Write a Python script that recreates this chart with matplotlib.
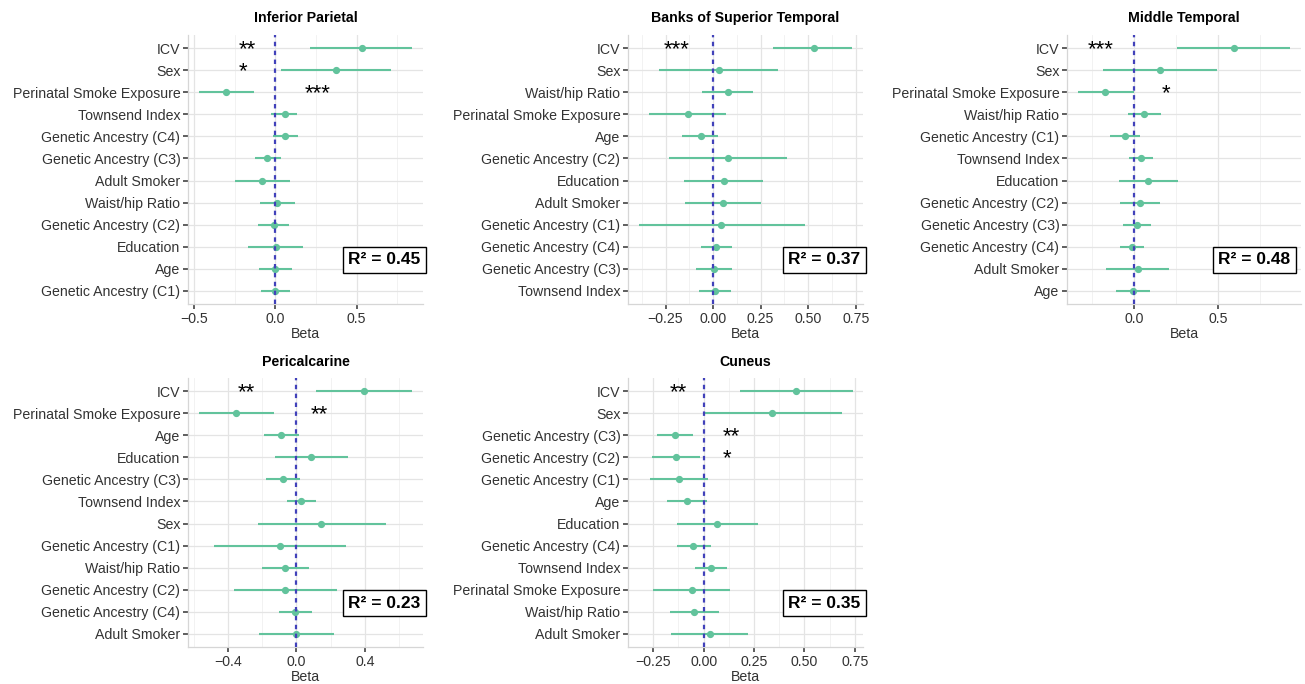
import numpy as np
import matplotlib
matplotlib.use("Agg")
import matplotlib.pyplot as plt

plt.rcParams["font.family"] = ["Liberation Sans", "DejaVu Sans"]

# ---- data (rows listed top to bottom) ----
ip_labels = ["ICV", "Sex", "Perinatal Smoke Exposure", "Townsend Index", "Genetic Ancestry (C4)",
             "Genetic Ancestry (C3)", "Adult Smoker", "Waist/hip Ratio", "Genetic Ancestry (C2)",
             "Education", "Age", "Genetic Ancestry (C1)"]
ip_beta = [0.531, 0.372, -0.302, 0.058, 0.062, -0.049, -0.082, 0.010, -0.010, 0.004, -0.002, -0.002]
ip_lo = [0.212, 0.037, -0.473, -0.025, -0.014, -0.128, -0.251, -0.097, -0.107, -0.169, -0.103, -0.086]
ip_hi = [0.844, 0.710, -0.134, 0.136, 0.140, 0.037, 0.088, 0.123, 0.084, 0.171, 0.103, 0.088]
ip_stars = [("ICV", -0.175, "**"), ("Sex", -0.2, "*"), ("Perinatal Smoke Exposure", 0.26, "***")]

bst_labels = ["ICV", "Sex", "Waist/hip Ratio", "Perinatal Smoke Exposure", "Age",
              "Genetic Ancestry (C2)", "Education", "Adult Smoker", "Genetic Ancestry (C1)",
              "Genetic Ancestry (C4)", "Genetic Ancestry (C3)", "Townsend Index"]
bst_beta = [0.528, 0.032, 0.079, -0.132, -0.065, 0.079, 0.055, 0.053, 0.044, 0.018, 0.005, 0.009]
bst_lo = [0.317, -0.282, -0.056, -0.335, -0.162, -0.232, -0.153, -0.148, -0.391, -0.065, -0.088, -0.074]
bst_hi = [0.732, 0.340, 0.208, 0.067, 0.028, 0.387, 0.264, 0.252, 0.481, 0.099, 0.099, 0.093]
bst_stars = [("ICV", -0.19, "***")]

mt_labels = ["ICV", "Sex", "Perinatal Smoke Exposure", "Waist/hip Ratio", "Genetic Ancestry (C1)",
             "Townsend Index", "Education", "Genetic Ancestry (C2)", "Genetic Ancestry (C3)",
             "Genetic Ancestry (C4)", "Adult Smoker", "Age"]
mt_beta = [0.593, 0.154, -0.172, 0.059, -0.053, 0.042, 0.085, 0.036, 0.016, -0.014, 0.020, -0.008]
mt_lo = [0.253, -0.188, -0.336, -0.034, -0.142, -0.028, -0.089, -0.083, -0.069, -0.083, -0.168, -0.109]
mt_hi = [0.929, 0.490, 0.000, 0.158, 0.036, 0.115, 0.263, 0.154, 0.101, 0.059, 0.209, 0.095]
mt_stars = [("ICV", -0.2, "***"), ("Perinatal Smoke Exposure", 0.19, "*")]

pc_labels = ["ICV", "Perinatal Smoke Exposure", "Age", "Education", "Genetic Ancestry (C3)",
             "Townsend Index", "Sex", "Genetic Ancestry (C1)", "Waist/hip Ratio",
             "Genetic Ancestry (C2)", "Genetic Ancestry (C4)", "Adult Smoker"]
pc_beta = [0.396, -0.351, -0.088, 0.088, -0.078, 0.029, 0.146, -0.098, -0.068, -0.064, -0.006, 0.000]
pc_lo = [0.113, -0.570, -0.191, -0.127, -0.176, -0.055, -0.224, -0.478, -0.201, -0.365, -0.101, -0.219]
pc_hi = [0.677, -0.133, 0.016, 0.302, 0.023, 0.117, 0.523, 0.289, 0.074, 0.240, 0.092, 0.219]
pc_stars = [("ICV", -0.29, "**"), ("Perinatal Smoke Exposure", 0.135, "**")]

cu_labels = ["ICV", "Sex", "Genetic Ancestry (C3)", "Genetic Ancestry (C2)", "Genetic Ancestry (C1)",
             "Age", "Education", "Genetic Ancestry (C4)", "Townsend Index",
             "Perinatal Smoke Exposure", "Waist/hip Ratio", "Adult Smoker"]
cu_beta = [0.460, 0.339, -0.142, -0.139, -0.120, -0.080, 0.066, -0.052, 0.035, -0.060, -0.047, 0.030]
cu_lo = [0.181, 0.000, -0.230, -0.254, -0.265, -0.183, -0.134, -0.134, -0.044, -0.252, -0.165, -0.162]
cu_hi = [0.740, 0.685, -0.052, -0.020, 0.022, 0.019, 0.268, 0.035, 0.117, 0.132, 0.074, 0.219]
cu_stars = [("ICV", -0.125, "**"), ("Genetic Ancestry (C3)", 0.135, "**"), ("Genetic Ancestry (C2)", 0.115, "*")]

panels = [
    ("Inferior Parietal", ip_labels, ip_beta, ip_lo, ip_hi, ip_stars, "0.45",
     [-0.5, 0.0, 0.5], ["\u22120.5", "0.0", "0.5"], [-0.25, 0.25, 0.75]),
    ("Banks of Superior Temporal", bst_labels, bst_beta, bst_lo, bst_hi, bst_stars, "0.37",
     [-0.25, 0.0, 0.25, 0.5, 0.75], ["\u22120.25", "0.00", "0.25", "0.50", "0.75"],
     [-0.375, -0.125, 0.125, 0.375, 0.625]),
    ("Middle Temporal", mt_labels, mt_beta, mt_lo, mt_hi, mt_stars, "0.48",
     [0.0, 0.5], ["0.0", "0.5"], [-0.25, 0.25, 0.75]),
    ("Pericalcarine", pc_labels, pc_beta, pc_lo, pc_hi, pc_stars, "0.23",
     [-0.4, 0.0, 0.4], ["\u22120.4", "0.0", "0.4"], [-0.6, -0.2, 0.2, 0.6]),
    ("Cuneus", cu_labels, cu_beta, cu_lo, cu_hi, cu_stars, "0.35",
     [-0.25, 0.0, 0.25, 0.5, 0.75], ["\u22120.25", "0.00", "0.25", "0.50", "0.75"],
     [-0.375, -0.125, 0.125, 0.375, 0.625]),
]

# axes boxes in pixels: left, right, top, bottom
W, H = 1305, 684
boxes = [(188, 423, 35, 304), (628, 863, 35, 304), (1067, 1301, 35, 304),
         (188, 423, 378, 647), (628, 863, 378, 647)]

green = "#62C39C"
fig = plt.figure(figsize=(W / 100, H / 100), dpi=100)

for (title, labels, beta, lo, hi, stars, r2, ticks, ticklabels, minors), (l, r, t, b) in zip(panels, boxes):
    ax = fig.add_axes([l / W, 1 - b / H, (r - l) / W, (b - t) / H])
    n = len(labels)
    y = np.arange(n)[::-1]
    ax.hlines(y, lo, hi, color=green, lw=1.5, zorder=3)
    ax.plot(beta, y, "o", color=green, ms=4.2, zorder=4)
    ax.axvline(0, color="#4141BA", lw=1.6, ls=(0, (2.0, 2.0)), zorder=5)

    # ggplot-like 5% expansion of the data range
    lo_min, hi_max = min(lo), max(hi)
    pad = 0.05 * (hi_max - lo_min)
    ax.set_xlim(lo_min - pad, hi_max + pad)
    ax.set_ylim(-0.6, n - 0.4)

    ax.set_yticks(y)
    ax.set_yticklabels(labels, fontsize=10.2, color="#333333")
    ax.set_xticks(ticks)
    ax.set_xticklabels(ticklabels, fontsize=10.2, color="#333333")
    ax.set_xticks(minors, minor=True)
    ax.tick_params(axis="both", which="major", length=3.5, width=1.1, color="#333333", pad=2)
    ax.tick_params(axis="x", which="minor", length=0)
    ax.grid(True, which="major", color="#E4E4E4", lw=0.9)
    ax.grid(True, which="minor", axis="x", color="#F0F0F0", lw=0.6)
    ax.set_axisbelow(True)
    for s in ["top", "right"]:
        ax.spines[s].set_visible(False)
    for s in ["left", "bottom"]:
        ax.spines[s].set_color("#D6D6D6")
        ax.spines[s].set_linewidth(0.9)

    ax.set_title(title, fontsize=10.2, fontweight="bold", pad=9)
    ax.set_xlabel("Beta", fontsize=10.2, color="#333333", labelpad=1)

    for lab, sx, txt in stars:
        yy = n - 1 - labels.index(lab)
        ax.text(sx, yy - 0.05, txt, fontsize=16, ha="center", va="center", color="black", zorder=6)

    # R^2 box sits near the lower right corner
    bx = 1 - (46.5 if r > 1300 else 38.5) / (r - l)
    ax.text(bx, 44 / (b - t), "R\u00b2 = " + r2,
            transform=ax.transAxes, ha="center", va="center", fontsize=12.5, fontweight="bold",
            bbox=dict(boxstyle="square,pad=0.3", fc="white", ec="black", lw=1.0), zorder=7)

fig.savefig("out.png", dpi=100)
